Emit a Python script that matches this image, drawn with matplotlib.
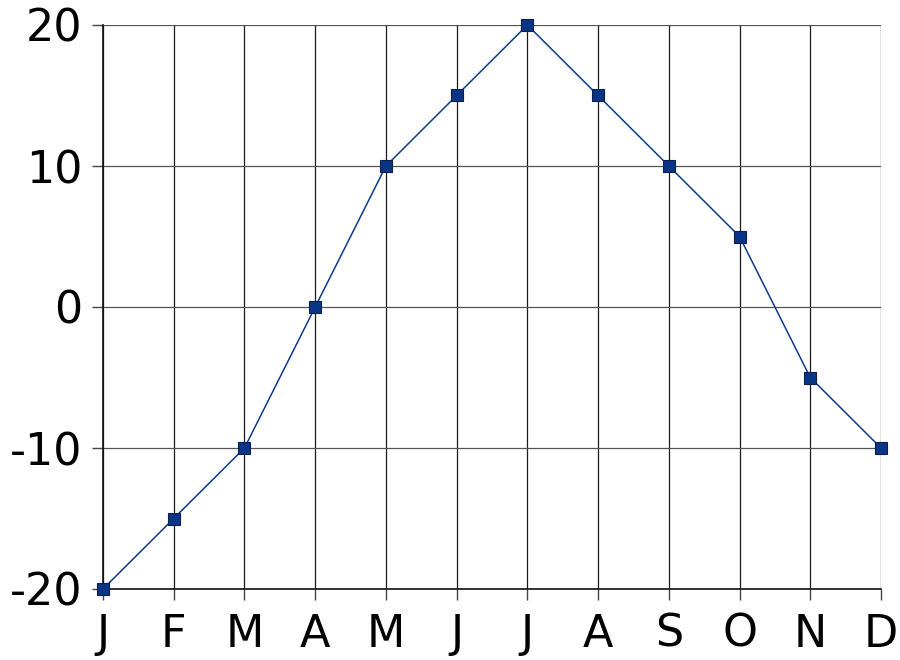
import matplotlib
matplotlib.use("Agg")
import matplotlib.pyplot as plt

months = ["J", "F", "M", "A", "M", "J", "J", "A", "S", "O", "N", "D"]
values = [-20, -15, -10, 0, 10, 15, 20, 15, 10, 5, -5, -10]
yticks = [-20, -10, 0, 10, 20]

fig = plt.figure(figsize=(9, 6.6), dpi=100)
ax = fig.add_axes([103/900, 1-589/660, (881-103)/900, (589-25)/660])
x = list(range(len(months)))
ax.plot(x, values, color="#0b3c8c", lw=1.1, marker="s", ms=8,
        mfc="#0a3587", mec="#0a1f4a", mew=0.8, zorder=3, clip_on=False)
ax.set_xlim(0, len(months)-1)
ax.set_ylim(-20, 20)
ax.set_xticks(x)
ax.set_xticklabels(months)
ax.set_yticks(yticks)
ax.set_yticklabels([str(v) for v in yticks])
ax.grid(True, axis="x", color="#1a1a1a", lw=0.9)
ax.grid(True, axis="y", color="#555555", lw=0.9)
ax.set_axisbelow(True)
for s in ["top", "right"]:
    ax.spines[s].set_visible(False)
for s in ["left", "bottom"]:
    ax.spines[s].set_color("#111111")
    ax.spines[s].set_linewidth(1.2)
ax.tick_params(axis="both", direction="out", length=8, width=1, color="#444444",
               labelsize=32)
ax.tick_params(axis="y", pad=6.5)
ax.tick_params(axis="x", pad=9)
fig.savefig("out.png", dpi=100)
